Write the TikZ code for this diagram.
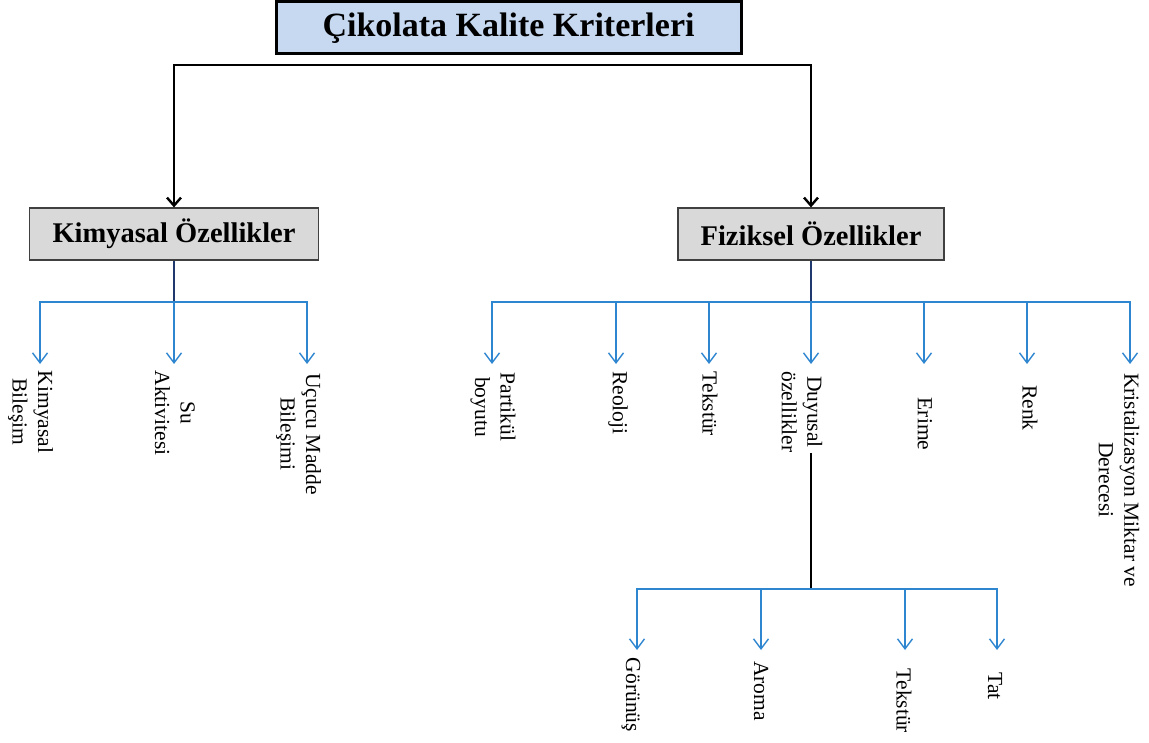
\documentclass[tikz,border=0pt]{standalone}
\usepackage{fontspec}
\setmainfont{Liberation Serif}
\usetikzlibrary{arrows.meta}
\definecolor{titlefill}{RGB}{198,217,241}
\definecolor{boxfill}{RGB}{217,217,217}
\definecolor{boxline}{RGB}{64,64,64}
\definecolor{branchblue}{RGB}{46,134,208}
\definecolor{navyline}{RGB}{31,56,110}
\tikzset{
  titlebox/.style={draw=black, line width=3pt, fill=titlefill, minimum width=465pt, minimum height=52pt,
    inner sep=0pt, font=\fontsize{34}{40}\selectfont\bfseries},
  groupbox/.style={draw=boxline, line width=1.2pt, fill=boxfill, minimum height=52pt,
    inner sep=0pt, font=\fontsize{28.5}{34}\selectfont\bfseries},
  leaf/.style={rotate=-90, align=center, inner sep=0pt, font=\fontsize{21.5}{25.5}\selectfont},
  mainarrow/.style={draw=black, line width=2.4pt, -{Straight Barb[length=8pt,width=14pt,line width=2.4pt]}},
  stem/.style={draw=navyline, line width=2.4pt},
  blackstem/.style={draw=black, line width=2.4pt},
  bluearrow/.style={draw=branchblue, line width=1.4pt, -{Straight Barb[length=10pt,width=15pt,line width=1.4pt]}}
}
\begin{document}
\begin{tikzpicture}[x=1pt, y=-1pt]
\useasboundingbox (0,0) rectangle (1149,743);

% top level and the two groups
\node[titlebox] (title) at (508.5,28) {Çikolata Kalite Kriterleri};
\node[groupbox, minimum width=289pt] (kim) at (174,234) {Kimyasal Özellikler};
\node[groupbox, minimum width=266pt] (fiz) at (811,234) {Fiziksel Özellikler};

\coordinate (tbar) at (508.5,65);
\draw[mainarrow] (tbar) -| (kim.north);
\draw[mainarrow] (tbar) -| (fiz.north);

% chemical properties
\coordinate (kbus) at (174,302);
\coordinate (k1) at (40,364);
\coordinate (k2) at (174,364);
\coordinate (k3) at (307,364);
\node[leaf] (kb) at (30.5,412) {Kimyasal\\Bileşim};
\node[leaf] (su) at (175,413) {Su\\Aktivitesi};
\node[leaf] (ucu) at (298.5,434) {Uçucu Madde\\Bileşimi};
\draw[stem] (kim.south) -- (kbus);
\draw[bluearrow] (kbus) -| (k1);
\draw[bluearrow] (kbus) -- (k2);
\draw[bluearrow] (kbus) -| (k3);

% physical properties
\coordinate (fbus) at (811,302);
\coordinate (f1) at (492,364);
\coordinate (f2) at (616,364);
\coordinate (f3) at (709,364);
\coordinate (f4) at (811,364);
\coordinate (f5) at (924,364);
\coordinate (f6) at (1027,364);
\coordinate (f7) at (1130,364);
\node[leaf] (par) at (493,407) {Partikül\\boyutu};
\node[leaf] (reo) at (618,403) {Reoloji};
\node[leaf] (tek) at (710,404) {Tekstür};
\node[leaf] (duy) at (802,412) {Duyusal\\özellikler};
\node[leaf] (eri) at (925,424) {Erime};
\node[leaf] (ren) at (1030,408) {Renk};
\node[leaf] (kri) at (1119,480) {Kristalizasyon Miktar ve\\Derecesi};
\draw[stem] (fiz.south) -- (fbus);
\draw[bluearrow] (fbus) -| (f1);
\draw[bluearrow] (fbus) -| (f2);
\draw[bluearrow] (fbus) -| (f3);
\draw[bluearrow] (fbus) -- (f4);
\draw[bluearrow] (fbus) -| (f5);
\draw[bluearrow] (fbus) -| (f6);
\draw[bluearrow] (fbus) -| (f7);

% sensory properties
\coordinate (dbus) at (811,589);
\coordinate (d1) at (637,650);
\coordinate (d2) at (761,650);
\coordinate (d3) at (905,650);
\coordinate (d4) at (997,650);
\node[leaf] (gor) at (631,695) {Görünüş};
\node[leaf] (aro) at (761,691) {Aroma};
\node[leaf] (tek2) at (904,701) {Tekstür};
\node[leaf] (tat) at (995,686) {Tat};
\draw[blackstem] (duy.east -| dbus) -- (dbus);
\draw[bluearrow] (dbus) -| (d1);
\draw[bluearrow] (dbus) -| (d2);
\draw[bluearrow] (dbus) -| (d3);
\draw[bluearrow] (dbus) -| (d4);
\end{tikzpicture}
\end{document}
